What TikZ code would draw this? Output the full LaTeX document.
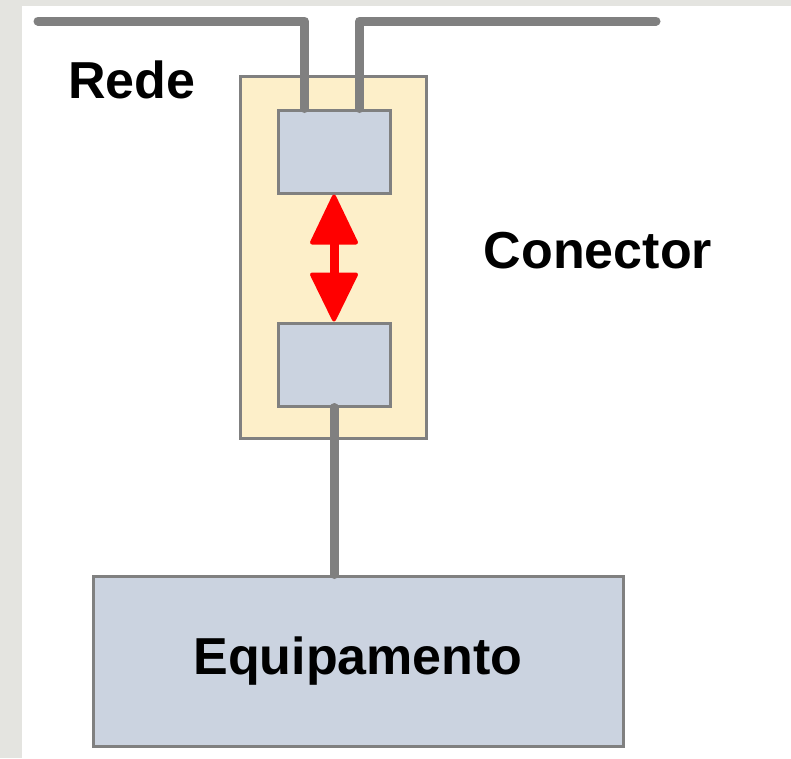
\documentclass[tikz,border=0pt]{standalone}
\usepackage{fontspec}
\setmainfont{Liberation Sans}
\usetikzlibrary{calc}
\definecolor{wire}{HTML}{808080}
\definecolor{cream}{HTML}{FDEFC9}
\definecolor{boxblue}{HTML}{CBD3E0}
\definecolor{bggray}{HTML}{E4E4E0}
\begin{document}
\begin{tikzpicture}[x=1pt,y=-1pt,
  box/.style={draw=wire, line width=3pt, fill=boxblue, inner sep=0pt},
  connbox/.style={draw=wire, line width=3pt, fill=cream, inner sep=0pt},
  wireline/.style={draw=wire, line width=9pt, line cap=round, line join=round},
  redhead/.style={fill=red, draw=red, line width=4pt, line join=round},
  lbl/.style={font=\fontsize{52}{60}\selectfont\bfseries, inner sep=0pt}]
\fill[bggray] (0,0) rectangle (791,758);
\fill[white] (22,6) rectangle (791,758);
\useasboundingbox (0,0) rectangle (791,758);
\node[connbox, minimum width=186pt, minimum height=362pt] (conn) at (333,257) {};
\node[box, minimum width=112pt, minimum height=83pt] (up) at (334,151.5) {};
\node[box, minimum width=112pt, minimum height=83pt] (lo) at (334,364.5) {};
\node[box, minimum width=530pt, minimum height=170pt] (eq) at (358,661) {};
\node[lbl] (eqt) at (eq.center) {Equipamento};
\node[lbl] (rede) at (132,80) {Rede};
\node[lbl] (cont) at (598,251) {Conector};
\coordinate (wl) at (38,21);
\coordinate (wr) at (656,21);
\draw[wireline] (wl) -| ([xshift=28pt]up.north west);
\draw[wireline] (wr) -| ([xshift=83pt]up.north west);
\draw[wireline] (lo.south) -- (lo.south |- eq.north);
% red double arrow between the two contacts
\draw[red, line width=9pt] ([yshift=-40pt]up.south) -- ([yshift=40pt]lo.north);
\filldraw[redhead] ([yshift=-2pt]up.south) -- ([xshift=-22pt,yshift=-48pt]up.south)
  -- ([xshift=22pt,yshift=-48pt]up.south) -- cycle;
\filldraw[redhead] ([yshift=2pt]lo.north) -- ([xshift=-22pt,yshift=47pt]lo.north)
  -- ([xshift=22pt,yshift=47pt]lo.north) -- cycle;
\end{tikzpicture}
\end{document}
